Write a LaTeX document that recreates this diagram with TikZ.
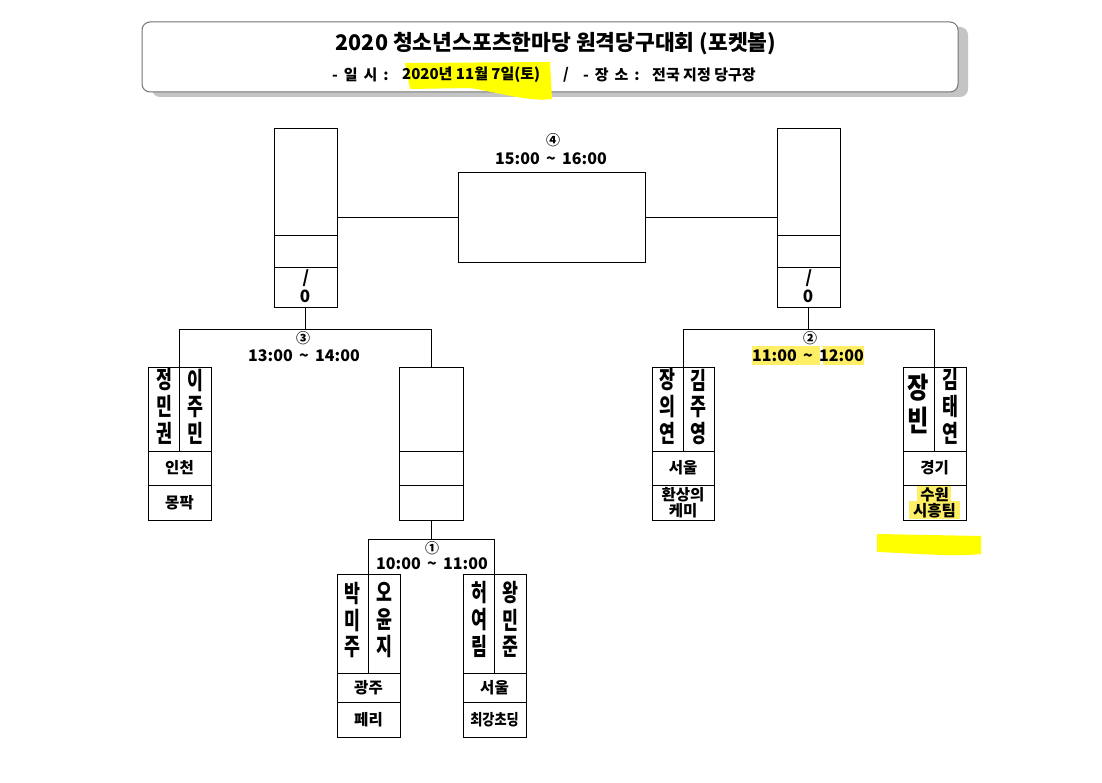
\documentclass[tikz,border=0pt]{standalone}
\usepackage{fontspec}
\setmainfont{Noto Sans CJK KR}
\usepackage{graphicx}
\definecolor{hl}{HTML}{FFFF00}
\definecolor{hlsoft}{HTML}{FFEF66}
\definecolor{shadowgray}{HTML}{C4C4C4}
\newcommand\vnm[1]{\scalebox{0.72}[1]{\begin{tabular}{@{}c@{}}#1\end{tabular}}}
\newcommand\vnmB[1]{\scalebox{0.8}[1]{\begin{tabular}{@{}c@{}}#1\end{tabular}}}
\begin{document}
\begin{tikzpicture}[x=1pt,y=-1pt,
  box/.style={draw, line width=0.9pt, inner sep=0pt, outer sep=0pt},
  ln/.style={line width=0.9pt},
  nm/.style={inner sep=0pt, font=\bfseries\fontsize{24}{23}\selectfont},
  nmbig/.style={inner sep=0pt, font=\bfseries\fontsize{29}{28}\selectfont},
  cell/.style={inner sep=0pt, font=\bfseries\fontsize{15.5}{16.5}\selectfont, align=center},
  tm/.style={inner sep=0pt, font=\bfseries\fontsize{16}{18}\selectfont},
  circ/.style={inner sep=0pt, font=\bfseries\fontsize{14}{16}\selectfont},
  sub/.style={inner sep=0pt, anchor=west, font=\bfseries\fontsize{15}{16}\selectfont}
]
\useasboundingbox (0,0) rectangle (1102,783);

% ---------- title box ----------
\fill[shadowgray, rounded corners=8pt] (152,27) rectangle (968,97);
\node[box, draw=black!55, line width=1pt, fill=white, rounded corners=8pt,
      minimum width=816pt, minimum height=70pt] (title) at (550,57) {};
\fill[hl] (405,63) -- (550,62) -- (552,99) .. controls (530,102) and (500,93) .. (470,88)
      -- (410,89) -- cycle;
\node[inner sep=0pt, font=\bfseries\fontsize{21.5}{22}\selectfont] (ttl) at (556,44)
  {2020 청소년스포츠한마당 원격당구대회 (포켓볼)};
\node[sub] (s1) at (332,75) {-\, 일\, 시\, :};
\node[sub] (s2) at (402,75) {2020년 11월 7일(토)};
\node[sub] (s3) at (563,75) {/};
\node[sub] (s4) at (583,75) {-\, 장\, 소\, :};
\node[sub] (s5) at (652,75) {전국 지정 당구장};

% ---------- final ----------
\node[box, minimum width=63pt, minimum height=179pt] (L4) at (305.5,217.5) {};
\draw[ln] (274,235) -- (337,235);
\draw[ln] (274,267) -- (337,267);
\node[inner sep=0pt, font=\bfseries\fontsize{17}{18}\selectfont\itshape] (L4s) at (306,278) {/};
\node[inner sep=0pt, font=\bfseries\fontsize{17}{18}\selectfont] (L4z) at (305,296) {0};

\node[box, minimum width=63pt, minimum height=179pt] (R4) at (808.5,217.5) {};
\draw[ln] (777,235) -- (840,235);
\draw[ln] (777,267) -- (840,267);
\node[inner sep=0pt, font=\bfseries\fontsize{17}{18}\selectfont\itshape] (R4s) at (809,278) {/};
\node[inner sep=0pt, font=\bfseries\fontsize{17}{18}\selectfont] (R4z) at (808,296) {0};

\node[box, minimum width=187pt, minimum height=90pt] (F) at (551.5,217.5) {};
\node[circ] (c4) at (553,140) {④};
\node[tm] (t4) at (551,159) {15:00\, \textasciitilde\, 16:00};
\draw[ln] (L4.east) -- (F.west);
\draw[ln] (F.east) -- (R4.west);

% ---------- semifinal left (3) ----------
\node[box, minimum width=63pt, minimum height=153pt] (A) at (179.5,443.5) {};
\coordinate (Adiv) at (179.5,367);
\draw[ln] (Adiv) -- (179.5,451);
\draw[ln] (148,451) -- (211,451);
\draw[ln] (148,485) -- (211,485);
\node[nm] (A1) at (164,409) {\vnm{정\\민\\권}};
\node[nm] (A2) at (195.5,409) {\vnm{이\\주\\민}};
\node[cell] (A3) at (179.5,468) {인천};
\node[cell] (A4) at (179.5,502.5) {몽팍};

\node[box, minimum width=64pt, minimum height=153pt] (E) at (431,443.5) {};
\draw[ln] (399,451) -- (463,451);
\draw[ln] (399,485) -- (463,485);

\coordinate (b3) at (305.5,329);
\draw[ln] (L4.south) -- (b3);
\draw[ln] (Adiv |- b3) -- (E.north |- b3);
\draw[ln] (Adiv |- b3) -- (Adiv);
\draw[ln] (E.north |- b3) -- (E.north);
\node[circ] (c3) at (303,338) {③};
\node[tm] (t3) at (304,356) {13:00\, \textasciitilde\, 14:00};

% ---------- round 1 (1) ----------
\node[box, minimum width=63pt, minimum height=163pt] (B) at (368.5,655.5) {};
\coordinate (Bdiv) at (368.5,574);
\draw[ln] (Bdiv) -- (368.5,673);
\draw[ln] (337,673) -- (400,673);
\draw[ln] (337,702) -- (400,702);
\node[nm] (B1) at (352.5,622) {\vnm{박\\미\\주}};
\node[nm] (B2) at (384.5,622) {\vnm{오\\윤\\지}};
\node[cell] (B3) at (368.5,687.5) {광주};
\node[cell] (B4) at (368.5,719.5) {페리};

\node[box, minimum width=63pt, minimum height=163pt] (C) at (494.5,655.5) {};
\coordinate (Cdiv) at (494.5,574);
\draw[ln] (Cdiv) -- (494.5,673);
\draw[ln] (463,673) -- (526,673);
\draw[ln] (463,702) -- (526,702);
\node[nm] (C1) at (479,622) {\vnm{허\\여\\림}};
\node[nm] (C2) at (510.5,622) {\vnm{왕\\민\\준}};
\node[cell] (C3) at (494.5,687.5) {서울};
\node[cell] (C4) at (494.5,719.5) {\scalebox{0.85}[1]{최강초딩}};

\coordinate (b1) at (431,539);
\draw[ln] (E.south) -- (b1);
\draw[ln] (Bdiv |- b1) -- (Cdiv |- b1);
\draw[ln] (Bdiv |- b1) -- (Bdiv);
\draw[ln] (Cdiv |- b1) -- (Cdiv);
\node[circ] (c1) at (432,548) {①};
\node[tm] (t1) at (432,564) {10:00\, \textasciitilde\, 11:00};

% ---------- semifinal right (2) ----------
\node[box, minimum width=62pt, minimum height=153pt] (D) at (683,443.5) {};
\coordinate (Ddiv) at (683,367);
\draw[ln] (Ddiv) -- (683,451);
\draw[ln] (652,451) -- (714,451);
\draw[ln] (652,485) -- (714,485);
\node[nm] (D1) at (667.5,409) {\vnm{장\\의\\연}};
\node[nm] (D2) at (698.5,409) {\vnm{김\\주\\영}};
\node[cell] (D3) at (683,468) {서울};
\node[cell] (D4) at (683,502.5) {환상의\\케미};

\node[box, minimum width=63pt, minimum height=153pt] (G) at (934.5,443.5) {};
\coordinate (Gdiv) at (934.5,367);
\draw[ln] (Gdiv) -- (934.5,451);
\draw[ln] (903,451) -- (966,451);
\draw[ln] (903,485) -- (966,485);
\node[nmbig] (G1) at (918.5,407) {\vnmB{장\\빈}};
\node[nm] (G2) at (950,409) {\vnm{김\\태\\연}};
\node[cell] (G3) at (934.5,468) {경기};
\fill[hlsoft] (917,486) rectangle (951,501);
\fill[hlsoft] (909,501) rectangle (960,519);
\node[cell] (G4) at (934.5,502.5) {수원\\시흥팀};
\fill[hl] (877,534) -- (981,536) -- (981,554) .. controls (950,557) and (910,553) .. (877,552) -- cycle;

\fill[hlsoft] (752,346) rectangle (820,365);
\fill[hlsoft] (823,346) rectangle (864,365);
\coordinate (b2) at (808.5,329);
\draw[ln] (R4.south) -- (b2);
\draw[ln] (Ddiv |- b2) -- (Gdiv |- b2);
\draw[ln] (Ddiv |- b2) -- (Ddiv);
\draw[ln] (Gdiv |- b2) -- (Gdiv);
\node[circ] (c2) at (810,338) {②};
\node[tm] (t2) at (808,356) {11:00\, \textasciitilde\, 12:00};
\end{tikzpicture}
\end{document}
